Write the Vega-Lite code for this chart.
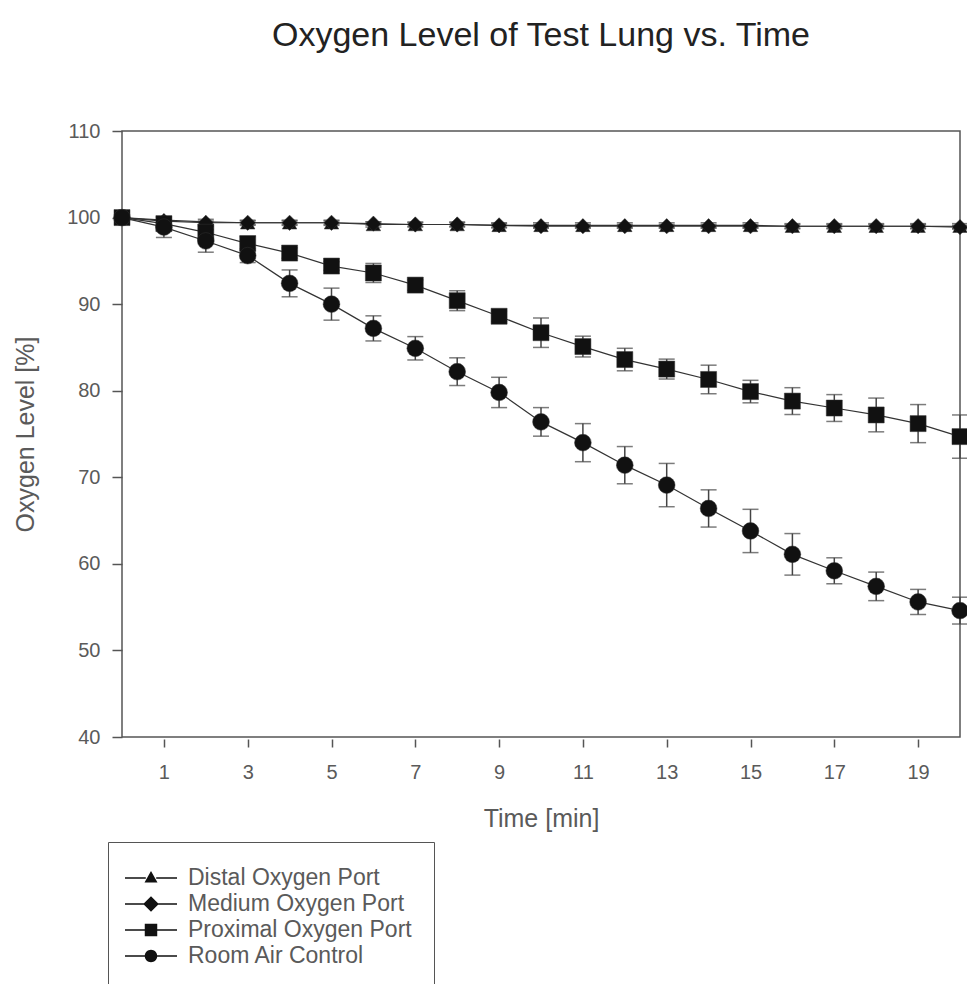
{
  "$schema": "https://vega.github.io/schema/vega-lite/v6.json",
  "width": 838,
  "height": 606,
  "autosize": {"type": "none"},
  "padding": {"left": 122, "top": 131, "right": 7, "bottom": 247},
  "background": "white",
  "config": {
    "view": {"stroke": "#555", "strokeWidth": 1.5},
    "font": "Liberation Sans",
    "axis": {
      "grid": false,
      "domain": false,
      "tickColor": "#555",
      "tickWidth": 1.5,
      "labelColor": "#5a5a5a",
      "labelFont": "Liberation Sans",
      "labelFontSize": 20,
      "titleColor": "#5a5a5a",
      "titleFont": "Liberation Sans",
      "titleFontSize": 25,
      "titleFontWeight": "normal"
    },
    "axisY": {"tickCount": 7, "tickSize": 10, "labelPadding": 12, "titleX": -89, "titleY": 303, "titleBaseline": "alphabetic", "titleAngle": -90}
  },
  "title": {
    "text": "Oxygen Level of Test Lung vs. Time",
    "fontSize": 34,
    "font": "Liberation Sans",
    "fontWeight": "normal",
    "color": "#222",
    "anchor": "middle",
    "frame": "group",
    "baseline": "alphabetic",
    "offset": 41
  },
  "data": {
    "values": [
      {"s": "Distal Oxygen Port", "t": 0, "v": 100},
      {"s": "Distal Oxygen Port", "t": 1, "v": 99.7, "lo": 99.4, "hi": 100.0},
      {"s": "Distal Oxygen Port", "t": 2, "v": 99.5, "lo": 99.2, "hi": 99.8},
      {"s": "Distal Oxygen Port", "t": 3, "v": 99.4, "lo": 99.1, "hi": 99.7},
      {"s": "Distal Oxygen Port", "t": 4, "v": 99.4, "lo": 99.1, "hi": 99.7},
      {"s": "Distal Oxygen Port", "t": 5, "v": 99.4, "lo": 99.1, "hi": 99.7},
      {"s": "Distal Oxygen Port", "t": 6, "v": 99.2, "lo": 98.9, "hi": 99.5},
      {"s": "Distal Oxygen Port", "t": 7, "v": 99.2, "lo": 98.9, "hi": 99.5},
      {"s": "Distal Oxygen Port", "t": 8, "v": 99.2, "lo": 98.9, "hi": 99.5},
      {"s": "Distal Oxygen Port", "t": 9, "v": 99.1, "lo": 98.8, "hi": 99.4},
      {"s": "Distal Oxygen Port", "t": 10, "v": 99.1, "lo": 98.8, "hi": 99.4},
      {"s": "Distal Oxygen Port", "t": 11, "v": 99.1, "lo": 98.8, "hi": 99.4},
      {"s": "Distal Oxygen Port", "t": 12, "v": 99.1, "lo": 98.8, "hi": 99.4},
      {"s": "Distal Oxygen Port", "t": 13, "v": 99.1, "lo": 98.8, "hi": 99.4},
      {"s": "Distal Oxygen Port", "t": 14, "v": 99.1, "lo": 98.8, "hi": 99.4},
      {"s": "Distal Oxygen Port", "t": 15, "v": 99.1, "lo": 98.8, "hi": 99.4},
      {"s": "Distal Oxygen Port", "t": 16, "v": 99.0, "lo": 98.7, "hi": 99.3},
      {"s": "Distal Oxygen Port", "t": 17, "v": 99.0, "lo": 98.7, "hi": 99.3},
      {"s": "Distal Oxygen Port", "t": 18, "v": 99.0, "lo": 98.7, "hi": 99.3},
      {"s": "Distal Oxygen Port", "t": 19, "v": 99.0, "lo": 98.7, "hi": 99.3},
      {"s": "Distal Oxygen Port", "t": 20, "v": 99.0, "lo": 98.7, "hi": 99.3},
      {"s": "Medium Oxygen Port", "t": 0, "v": 100},
      {"s": "Medium Oxygen Port", "t": 1, "v": 99.6, "lo": 99.4, "hi": 99.8},
      {"s": "Medium Oxygen Port", "t": 2, "v": 99.4, "lo": 99.2, "hi": 99.6},
      {"s": "Medium Oxygen Port", "t": 3, "v": 99.4, "lo": 99.2, "hi": 99.6},
      {"s": "Medium Oxygen Port", "t": 4, "v": 99.4, "lo": 99.2, "hi": 99.6},
      {"s": "Medium Oxygen Port", "t": 5, "v": 99.4, "lo": 99.2, "hi": 99.6},
      {"s": "Medium Oxygen Port", "t": 6, "v": 99.3, "lo": 99.1, "hi": 99.5},
      {"s": "Medium Oxygen Port", "t": 7, "v": 99.2, "lo": 99.0, "hi": 99.4},
      {"s": "Medium Oxygen Port", "t": 8, "v": 99.2, "lo": 99.0, "hi": 99.4},
      {"s": "Medium Oxygen Port", "t": 9, "v": 99.1, "lo": 98.9, "hi": 99.3},
      {"s": "Medium Oxygen Port", "t": 10, "v": 99.0, "lo": 98.8, "hi": 99.2},
      {"s": "Medium Oxygen Port", "t": 11, "v": 99.0, "lo": 98.8, "hi": 99.2},
      {"s": "Medium Oxygen Port", "t": 12, "v": 99.0, "lo": 98.8, "hi": 99.2},
      {"s": "Medium Oxygen Port", "t": 13, "v": 99.0, "lo": 98.8, "hi": 99.2},
      {"s": "Medium Oxygen Port", "t": 14, "v": 99.0, "lo": 98.8, "hi": 99.2},
      {"s": "Medium Oxygen Port", "t": 15, "v": 99.0, "lo": 98.8, "hi": 99.2},
      {"s": "Medium Oxygen Port", "t": 16, "v": 99.0, "lo": 98.8, "hi": 99.2},
      {"s": "Medium Oxygen Port", "t": 17, "v": 99.0, "lo": 98.8, "hi": 99.2},
      {"s": "Medium Oxygen Port", "t": 18, "v": 99.0, "lo": 98.8, "hi": 99.2},
      {"s": "Medium Oxygen Port", "t": 19, "v": 99.0, "lo": 98.8, "hi": 99.2},
      {"s": "Medium Oxygen Port", "t": 20, "v": 98.9, "lo": 98.7, "hi": 99.1},
      {"s": "Proximal Oxygen Port", "t": 0, "v": 100},
      {"s": "Proximal Oxygen Port", "t": 1, "v": 99.3, "lo": 98.9, "hi": 99.7},
      {"s": "Proximal Oxygen Port", "t": 2, "v": 98.3, "lo": 97.6, "hi": 99.0},
      {"s": "Proximal Oxygen Port", "t": 3, "v": 97.0, "lo": 96.2, "hi": 97.8},
      {"s": "Proximal Oxygen Port", "t": 4, "v": 95.9, "lo": 95.3, "hi": 96.5},
      {"s": "Proximal Oxygen Port", "t": 5, "v": 94.4, "lo": 93.9, "hi": 94.9},
      {"s": "Proximal Oxygen Port", "t": 6, "v": 93.6, "lo": 92.5, "hi": 94.7},
      {"s": "Proximal Oxygen Port", "t": 7, "v": 92.2, "lo": 91.6, "hi": 92.8},
      {"s": "Proximal Oxygen Port", "t": 8, "v": 90.4, "lo": 89.25, "hi": 91.55},
      {"s": "Proximal Oxygen Port", "t": 9, "v": 88.6, "lo": 88.0, "hi": 89.2},
      {"s": "Proximal Oxygen Port", "t": 10, "v": 86.7, "lo": 85.0, "hi": 88.4},
      {"s": "Proximal Oxygen Port", "t": 11, "v": 85.1, "lo": 83.9, "hi": 86.3},
      {"s": "Proximal Oxygen Port", "t": 12, "v": 83.6, "lo": 82.3, "hi": 84.9},
      {"s": "Proximal Oxygen Port", "t": 13, "v": 82.5, "lo": 81.35, "hi": 83.65},
      {"s": "Proximal Oxygen Port", "t": 14, "v": 81.3, "lo": 79.65, "hi": 82.95},
      {"s": "Proximal Oxygen Port", "t": 15, "v": 79.9, "lo": 78.6, "hi": 81.2},
      {"s": "Proximal Oxygen Port", "t": 16, "v": 78.8, "lo": 77.25, "hi": 80.35},
      {"s": "Proximal Oxygen Port", "t": 17, "v": 78.0, "lo": 76.45, "hi": 79.55},
      {"s": "Proximal Oxygen Port", "t": 18, "v": 77.2, "lo": 75.25, "hi": 79.15},
      {"s": "Proximal Oxygen Port", "t": 19, "v": 76.2, "lo": 74.0, "hi": 78.4},
      {"s": "Proximal Oxygen Port", "t": 20, "v": 74.7, "lo": 72.2, "hi": 77.2},
      {"s": "Room Air Control", "t": 0, "v": 100},
      {"s": "Room Air Control", "t": 1, "v": 98.9, "lo": 97.7, "hi": 100.1},
      {"s": "Room Air Control", "t": 2, "v": 97.3, "lo": 96.0, "hi": 98.6},
      {"s": "Room Air Control", "t": 3, "v": 95.6, "lo": 94.8, "hi": 96.4},
      {"s": "Room Air Control", "t": 4, "v": 92.4, "lo": 90.85, "hi": 93.95},
      {"s": "Room Air Control", "t": 5, "v": 90.0, "lo": 88.15, "hi": 91.85},
      {"s": "Room Air Control", "t": 6, "v": 87.2, "lo": 85.75, "hi": 88.65},
      {"s": "Room Air Control", "t": 7, "v": 84.9, "lo": 83.55, "hi": 86.25},
      {"s": "Room Air Control", "t": 8, "v": 82.2, "lo": 80.6, "hi": 83.8},
      {"s": "Room Air Control", "t": 9, "v": 79.8, "lo": 78.05, "hi": 81.55},
      {"s": "Room Air Control", "t": 10, "v": 76.4, "lo": 74.75, "hi": 78.05},
      {"s": "Room Air Control", "t": 11, "v": 74.0, "lo": 71.8, "hi": 76.2},
      {"s": "Room Air Control", "t": 12, "v": 71.4, "lo": 69.25, "hi": 73.55},
      {"s": "Room Air Control", "t": 13, "v": 69.1, "lo": 66.6, "hi": 71.6},
      {"s": "Room Air Control", "t": 14, "v": 66.4, "lo": 64.25, "hi": 68.55},
      {"s": "Room Air Control", "t": 15, "v": 63.8, "lo": 61.3, "hi": 66.3},
      {"s": "Room Air Control", "t": 16, "v": 61.1, "lo": 58.7, "hi": 63.5},
      {"s": "Room Air Control", "t": 17, "v": 59.2, "lo": 57.7, "hi": 60.7},
      {"s": "Room Air Control", "t": 18, "v": 57.4, "lo": 55.75, "hi": 59.05},
      {"s": "Room Air Control", "t": 19, "v": 55.6, "lo": 54.15, "hi": 57.05},
      {"s": "Room Air Control", "t": 20, "v": 54.6, "lo": 53.05, "hi": 56.15}
    ]
  },
  "encoding": {
    "x": {
      "field": "t",
      "type": "quantitative",
      "scale": {"domain": [0, 20], "nice": false, "zero": false},
      "axis": {
        "values": [1, 3, 5, 7, 9, 11, 13, 15, 17, 19],
        "title": "Time [min]",
        "tickSize": 8,
        "offset": 2,
        "labelPadding": 15,
        "titleY": 87,
        "titleBaseline": "alphabetic"
      }
    }
  },
  "layer": [
    {
      "mark": {"type": "rule", "color": "#444", "strokeWidth": 1.5},
      "encoding": {
        "y": {"field": "lo", "type": "quantitative", "scale": {"domain": [40, 110], "nice": false, "zero": false}, "title": "Oxygen Level [%]"},
        "y2": {"field": "hi"},
        "detail": {"field": "s"}
      }
    },
    {
      "mark": {"type": "tick", "orient": "horizontal", "size": 16, "thickness": 1.5, "color": "#444"},
      "encoding": {
        "y": {"field": "lo", "type": "quantitative", "scale": {"domain": [40, 110], "nice": false, "zero": false}, "title": "Oxygen Level [%]"},
        "detail": {"field": "s"}
      }
    },
    {
      "mark": {"type": "tick", "orient": "horizontal", "size": 16, "thickness": 1.5, "color": "#444"},
      "encoding": {
        "y": {"field": "hi", "type": "quantitative", "scale": {"domain": [40, 110], "nice": false, "zero": false}, "title": "Oxygen Level [%]"},
        "detail": {"field": "s"}
      }
    },
    {
      "mark": {"type": "line", "color": "#333", "strokeWidth": 1.2},
      "encoding": {
        "y": {"field": "v", "type": "quantitative", "scale": {"domain": [40, 110], "nice": false, "zero": false}, "title": "Oxygen Level [%]"},
        "detail": {"field": "s"}
      }
    },
    {
      "mark": {"type": "point", "filled": true, "color": "#111", "opacity": 1, "stroke": "#333", "strokeWidth": 0.5},
      "encoding": {
        "y": {"field": "v", "type": "quantitative", "scale": {"domain": [40, 110], "nice": false, "zero": false}, "title": "Oxygen Level [%]"},
        "shape": {
          "field": "s",
          "type": "nominal",
          "scale": {
            "domain": ["Distal Oxygen Port", "Medium Oxygen Port", "Proximal Oxygen Port", "Room Air Control"],
            "range": ["triangle-up", "diamond", "square", "circle"]
          },
          "legend": null
        },
        "size": {
          "field": "s",
          "type": "nominal",
          "scale": {
            "domain": ["Distal Oxygen Port", "Medium Oxygen Port", "Proximal Oxygen Port", "Room Air Control"],
            "range": [210, 280, 180, 150]
          },
          "legend": null
        }
      }
    },
    {
      "mark": {"type": "point", "filled": true, "color": "#111", "opacity": 0},
      "encoding": {
        "y": {"field": "v", "type": "quantitative", "scale": {"domain": [40, 110], "nice": false, "zero": false}, "title": "Oxygen Level [%]"},
        "shape": {
          "field": "s",
          "type": "nominal",
          "scale": {
            "domain": ["Distal Oxygen Port", "Medium Oxygen Port", "Proximal Oxygen Port", "Room Air Control"],
            "range": [
              "M-2,-0.06H-0.4V0.06H-2ZM0.4,-0.06H2V0.06H0.4ZM0,-0.54L0.5,0.34H-0.5Z",
              "M-2,-0.06H-0.5V0.06H-2ZM0.5,-0.06H2V0.06H0.5ZM0,-0.6L0.6,0L0,0.6L-0.6,0Z",
              "M-2,-0.06H-0.4V0.06H-2ZM0.4,-0.06H2V0.06H0.4ZM-0.48,-0.48H0.48V0.48H-0.48Z",
              "M-2,-0.06H-0.4V0.06H-2ZM0.4,-0.06H2V0.06H0.4ZM0.48,0A0.48,0.48 0 1,1 -0.48,0A0.48,0.48 0 1,1 0.48,0Z"
            ]
          },
          "legend": {
            "orient": "none",
            "legendX": -14,
            "legendY": 711,
            "direction": "vertical",
            "title": null,
            "symbolSize": 676,
            "symbolFillColor": "#111",
            "symbolOpacity": 1,
            "symbolOffset": 7,
            "labelFont": "Liberation Sans",
            "labelFontSize": 23,
            "labelColor": "#5a5a5a",
            "labelOffset": 23,
            "labelLimit": 400,
            "strokeColor": "#555",
            "fillColor": "white",
            "padding": 22,
            "rowPadding": 0
          }
        }
      }
    }
  ],
  "resolve": {"scale": {"shape": "independent"}}
}
